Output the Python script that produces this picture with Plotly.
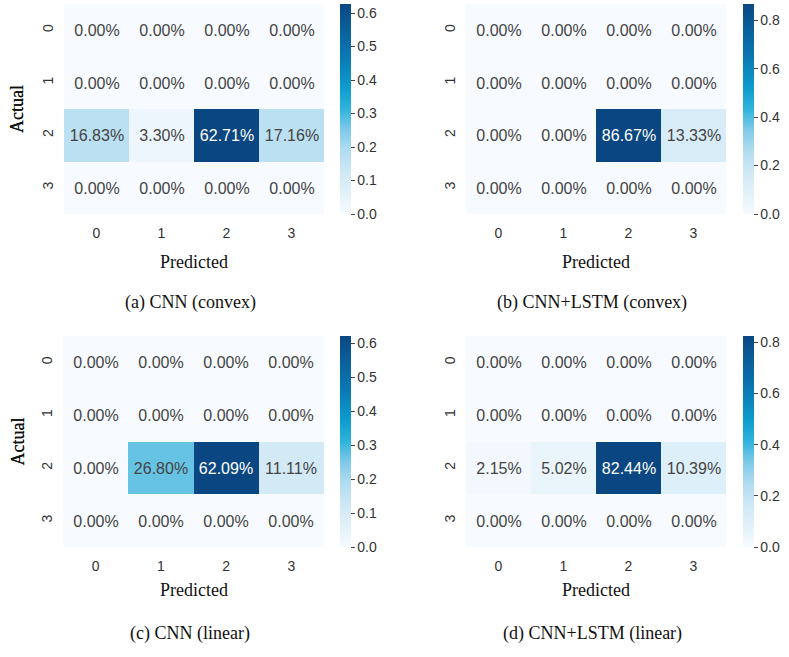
import plotly.graph_objects as go

W, H = 789, 657

classes = [0, 1, 2, 3]
tick_labels = ["0", "1", "2", "3"]

cnn_convex = [[0.0, 0.0, 0.0, 0.0],
              [0.0, 0.0, 0.0, 0.0],
              [0.1683, 0.0330, 0.6271, 0.1716],
              [0.0, 0.0, 0.0, 0.0]]
cnn_lstm_convex = [[0.0, 0.0, 0.0, 0.0],
                   [0.0, 0.0, 0.0, 0.0],
                   [0.0, 0.0, 0.8667, 0.1333],
                   [0.0, 0.0, 0.0, 0.0]]
cnn_linear = [[0.0, 0.0, 0.0, 0.0],
              [0.0, 0.0, 0.0, 0.0],
              [0.0, 0.2680, 0.6209, 0.1111],
              [0.0, 0.0, 0.0, 0.0]]
cnn_lstm_linear = [[0.0, 0.0, 0.0, 0.0],
                   [0.0, 0.0, 0.0, 0.0],
                   [0.0215, 0.0502, 0.8244, 0.1039],
                   [0.0, 0.0, 0.0, 0.0]]

captions = ["(a) CNN (convex)", "(b) CNN+LSTM (convex)",
            "(c) CNN (linear)", "(d) CNN+LSTM (linear)"]
cbar_dticks = [0.1, 0.2, 0.1, 0.2]

colorscale = [
    [0.0, "#f7fbff"],
    [0.1, "#e2f1f9"],
    [0.2, "#cfe8f5"],
    [0.3, "#b2ddf0"],
    [0.4, "#80cae8"],
    [0.5, "#30b3dc"],
    [0.6, "#0e9cce"],
    [0.75, "#0a78b3"],
    [0.9, "#0a5c97"],
    [1.0, "#0a4782"],
]

# pixel layout of panels: (left, right, top, bottom)
panels = [(64, 324, 4, 214), (466, 726, 4, 214),
          (63, 324, 336, 547), (466, 726, 336, 547)]
cbar_left = [340, 743, 340, 743]
pred_y = [262, 262, 590, 590]
cap_y = [303, 303, 633, 633]

mats = [cnn_convex, cnn_lstm_convex, cnn_linear, cnn_lstm_linear]

fig = go.Figure()
annotations = []
sans = "Liberation Sans, Arial, sans-serif"
serif = "Liberation Serif, Times New Roman, serif"

for i, (m, (l, r, t, b)) in enumerate(zip(mats, panels)):
    ax = "" if i == 0 else str(i + 1)
    zmax = max(max(row) for row in m)
    fig.add_trace(go.Heatmap(
        z=m, x=classes, y=classes,
        xaxis="x" + ax, yaxis="y" + ax,
        colorscale=colorscale, zmin=0, zmax=zmax,
        texttemplate="%{z:.2%}",
        textfont=dict(family=sans, size=16),
        hoverinfo="skip",
        colorbar=dict(
            x=cbar_left[i] / W, xanchor="left", xpad=0,
            y=1 - (t + b) / 2 / H, yanchor="middle", ypad=0,
            len=b - t, lenmode="pixels", thickness=11,
            outlinewidth=0, ticks="outside", ticklen=4, tickwidth=1,
            tickcolor="#444", dtick=cbar_dticks[i], tick0=0,
            tickformat=".1f", ticklabeloverflow="allow",
            tickfont=dict(family=sans, size=14, color="#333"),
        ),
    ))
    fig.layout["xaxis" + ax] = dict(
        domain=[l / W, r / W], anchor="y" + ax,
        tickvals=classes, ticktext=tick_labels, showgrid=False,
        zeroline=False, showline=False, ticks="",
        ticklabelstandoff=9, automargin=False,
        tickfont=dict(family=sans, size=14, color="#333"),
    )
    fig.layout["yaxis" + ax] = dict(
        domain=[1 - b / H, 1 - t / H], anchor="x" + ax,
        tickvals=classes, ticktext=tick_labels, showgrid=False,
        zeroline=False, showline=False, ticks="", autorange="reversed",
        tickangle=-90, ticklabelstandoff=7, automargin=False,
        tickfont=dict(family=sans, size=14, color="#333"),
    )
    annotations.append(dict(
        text="Actual", xref="paper", yref="paper",
        x=17 / W, y=1 - (t + b) / 2 / H, textangle=-90,
        showarrow=False, xanchor="center", yanchor="middle",
        font=dict(family=serif, size=18, color="#111"),
    ))
    annotations.append(dict(
        text="Predicted", xref="paper", yref="paper",
        x=(l + r) / 2 / W, y=1 - pred_y[i] / H,
        showarrow=False, xanchor="center", yanchor="middle",
        font=dict(family=serif, size=18, color="#111"),
    ))
    annotations.append(dict(
        text=captions[i], xref="paper", yref="paper",
        x=(l + r) / 2 / W - 4 / W, y=1 - cap_y[i] / H,
        showarrow=False, xanchor="center", yanchor="middle",
        font=dict(family=serif, size=18, color="#111"),
    ))

fig.update_layout(
    width=W, height=H,
    margin=dict(l=0, r=0, t=0, b=0, autoexpand=False),
    paper_bgcolor="white", plot_bgcolor="white",
    annotations=annotations,
    showlegend=False,
)

fig.write_html(
    "out.html",
    config={"displayModeBar": False},
    post_script="document.body.style.margin='0';document.body.style.overflow='hidden';",
)
